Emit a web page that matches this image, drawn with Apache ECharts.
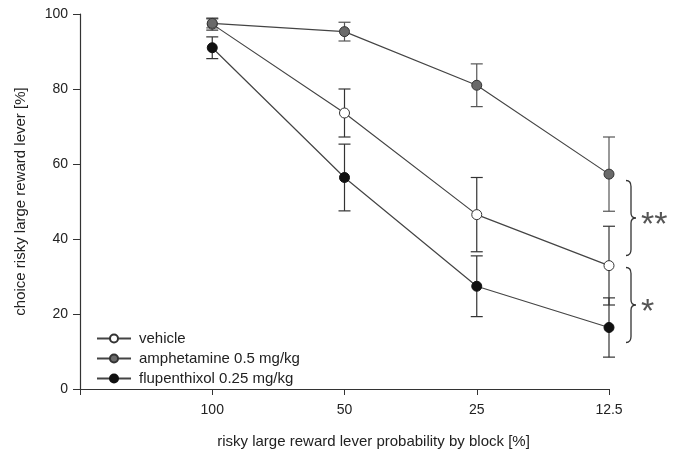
<!DOCTYPE html>
<html>
<head>
<meta charset="utf-8">
<script src="https://cdn.jsdelivr.net/npm/echarts@6/dist/echarts.min.js"></script>
<style>
  html, body { margin: 0; padding: 0; background: #fff; }
  #chart { width: 673px; height: 454px; }
</style>
</head>
<body>
<div id="chart"></div>
<script>
// x positions of the blocks (0 is the empty axis start)
const xPos = [1, 2, 3, 4]
const xLabels = ['', '100', '50', '25', '12.5']

// means and SEM
const vehicleMean = [97.3, 73.6, 46.5, 32.9]
const vehicleErr = [1.6, 6.4, 9.9, 10.5]
const amphMean = [97.5, 95.3, 81.0, 57.3]
const amphErr = [1.2, 2.5, 5.7, 9.9]
const flupMean = [91.0, 56.4, 27.4, 16.4]
const flupErr = [2.9, 8.9, 8.1, 7.9]

// significance braces at the last block: [x, top, bottom, label]
const braces = [
  [4, 55.6, 35.6, '**'],
  [4, 32.4, 12.4, '*']
]

const font = 'Liberation Sans, Arial, sans-serif'
const chart = echarts.init(document.getElementById('chart'))

function pairs(mean) {
  return xPos.map((x, i) => [x, mean[i]])
}
function errData(mean, err) {
  return xPos.map((x, i) => [x, mean[i] - err[i], mean[i] + err[i]])
}

function renderErr(color) {
  return function(params, api) {
    const lo = api.coord([api.value(0), api.value(1)])
    const hi = api.coord([api.value(0), api.value(2)])
    const w = 6
    const style = { stroke: color, lineWidth: 1.2 }
    return {
      type: 'group',
      children: [
        { type: 'line', shape: { x1: lo[0], y1: lo[1], x2: hi[0], y2: hi[1] }, style },
        { type: 'line', shape: { x1: lo[0] - w, y1: lo[1], x2: lo[0] + w, y2: lo[1] }, style },
        { type: 'line', shape: { x1: hi[0] - w, y1: hi[1], x2: hi[0] + w, y2: hi[1] }, style }
      ]
    }
  }
}

function renderBrace(params, api) {
  const top = api.coord([api.value(0), api.value(1)])
  const bot = api.coord([api.value(0), api.value(2)])
  const x = top[0] + 17
  const y0 = top[1]
  const y1 = bot[1]
  const ym = (y0 + y1) / 2
  const d = 'M' + x + ' ' + y0 +
    ' Q' + (x + 5) + ' ' + y0 + ' ' + (x + 5) + ' ' + (y0 + 6) +
    ' L' + (x + 5) + ' ' + (ym - 5) +
    ' Q' + (x + 5) + ' ' + ym + ' ' + (x + 10) + ' ' + ym +
    ' Q' + (x + 5) + ' ' + ym + ' ' + (x + 5) + ' ' + (ym + 5) +
    ' L' + (x + 5) + ' ' + (y1 - 6) +
    ' Q' + (x + 5) + ' ' + y1 + ' ' + x + ' ' + y1
  return {
    type: 'group',
    children: [
      { type: 'path', shape: { pathData: d }, style: { stroke: '#333', lineWidth: 1.3, fill: null } },
      {
        type: 'text',
        style: {
          x: x + 15, y: ym + 8, text: api.value(3),
          fill: '#555', font: '34px ' + font,
          textAlign: 'left', textVerticalAlign: 'middle'
        }
      }
    ]
  }
}

const lineStyle = { color: '#444', width: 1.2 }

chart.setOption({
  animation: false,
  grid: { left: 80, right: 64, top: 14, bottom: 61 },
  legend: {
    left: 91,
    top: 326,
    orient: 'vertical',
    itemWidth: 34,
    itemHeight: 10,
    itemGap: 5,
    textStyle: { fontFamily: font, fontSize: 15, color: '#222', padding: [0, 0, 0, 3] },
    data: ['vehicle', 'amphetamine 0.5 mg/kg', 'flupenthixol 0.25 mg/kg']
  },
  xAxis: {
    type: 'value',
    min: 0,
    max: 4,
    interval: 1,
    name: 'risky large reward lever probability by block [%]',
    nameLocation: 'middle',
    nameGap: 45,
    nameTextStyle: { fontFamily: font, fontSize: 15, color: '#222', padding: [0, 0, 0, 58] },
    axisLine: { lineStyle: { color: '#333', width: 1.2 } },
    axisTick: { length: 6, lineStyle: { color: '#333' } },
    axisLabel: {
      fontFamily: font, fontSize: 14, color: '#222', margin: 14,
      formatter: v => xLabels[v]
    },
    splitLine: { show: false }
  },
  yAxis: {
    type: 'value',
    min: 0,
    max: 100,
    interval: 20,
    name: 'choice risky large reward lever [%]',
    nameLocation: 'middle',
    nameGap: 52,
    nameTextStyle: { fontFamily: font, fontSize: 15, color: '#222' },
    axisLine: { show: true, lineStyle: { color: '#333', width: 1.2 } },
    axisTick: { show: true, length: 7, lineStyle: { color: '#333' } },
    axisLabel: { fontFamily: font, fontSize: 14, color: '#222', margin: 12 },
    splitLine: { show: false }
  },
  series: [
    {
      type: 'custom', name: 'amphErr', renderItem: renderErr('#555'),
      data: errData(amphMean, amphErr), z: 1
    },
    {
      type: 'custom', name: 'vehicleErr', renderItem: renderErr('#333'),
      data: errData(vehicleMean, vehicleErr), z: 1
    },
    {
      type: 'custom', name: 'flupErr', renderItem: renderErr('#333'),
      data: errData(flupMean, flupErr), z: 1
    },
    {
      name: 'vehicle', type: 'line', data: pairs(vehicleMean),
      symbol: 'circle', symbolSize: 10, lineStyle,
      itemStyle: { color: '#fff', borderColor: '#333', borderWidth: 1 }, z: 3
    },
    {
      name: 'amphetamine 0.5 mg/kg', type: 'line', data: pairs(amphMean),
      symbol: 'circle', symbolSize: 10, lineStyle,
      itemStyle: { color: '#6a6a6a', borderColor: '#333', borderWidth: 1 }, z: 4
    },
    {
      name: 'flupenthixol 0.25 mg/kg', type: 'line', data: pairs(flupMean),
      symbol: 'circle', symbolSize: 10, lineStyle,
      itemStyle: { color: '#111', borderColor: '#111', borderWidth: 1 }, z: 3
    },
    {
      type: 'custom', name: 'braces', renderItem: renderBrace,
      data: braces, clip: false, z: 5
    }
  ]
})
</script>
</body>
</html>
